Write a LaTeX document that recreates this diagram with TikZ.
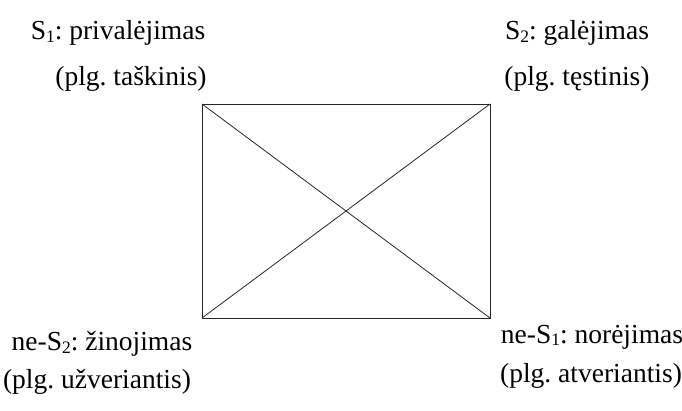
\documentclass[tikz,border=0pt]{standalone}
\usepackage{fontspec}
\setmainfont{Liberation Serif}
\usetikzlibrary{positioning}
\newcommand{\idx}[1]{\raisebox{-0.2ex}{\fontsize{17.5}{17.5}\selectfont #1}}
\frenchspacing

\begin{document}
\begin{tikzpicture}[
    x=1pt, y=-1pt,
    label/.style={inner sep=0pt, font=\fontsize{27.5}{30}\selectfont},
    edge/.style={draw=black!85, line width=0.8pt}
]
\useasboundingbox (0,0) rectangle (682,410);

% Square corners
\coordinate (tl) at (202,104);
\coordinate (tr) at (490,104);
\coordinate (br) at (490,318);
\coordinate (bl) at (202,318);

% Square and diagonals
\draw[edge] (tl) -- (tr) -- (br) -- (bl) -- cycle;
\draw[edge] (tl) -- (br);
\draw[edge] (bl) -- (tr);

% Labels
\node[label] (s1)     at (118,33)  {S\idx{1}: privalėjimas};
\node[label] (s1note) at (131,79)  {(plg. taškinis)};
\node[label] (s2)     at (577,33)  {S\idx{2}: galėjimas};
\node[label] (s2note) at (577,79)  {(plg. tęstinis)};
\node[label] (ns2)     at (102,344) {ne-S\idx{2}: žinojimas};
\node[label] (ns2note) at (97,382)  {(plg. užveriantis)};
\node[label] (ns1)     at (592,337) {ne-S\idx{1}: norėjimas};
\node[label] (ns1note) at (591,376) {(plg. atveriantis)};

\end{tikzpicture}
\end{document}
